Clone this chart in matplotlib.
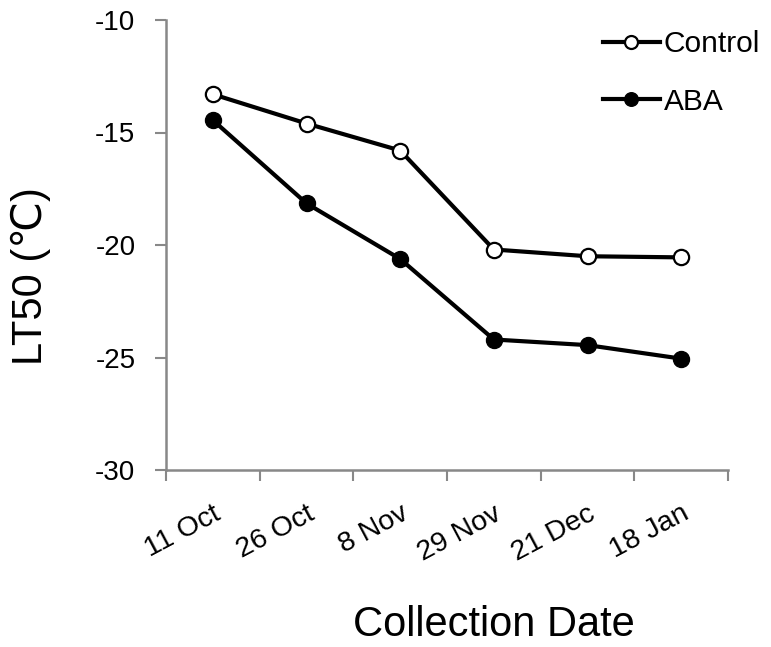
import matplotlib
matplotlib.use("Agg")
import matplotlib.pyplot as plt
import numpy as np

plt.rcParams['font.family'] = ['Liberation Sans', 'DejaVu Sans']

dates = ["11 Oct", "26 Oct", "8 Nov", "29 Nov", "21 Dec", "18 Jan"]
control = [-13.3, -14.6, -15.8, -20.2, -20.5, -20.55]
aba = [-14.45, -18.15, -20.62, -24.2, -24.45, -25.05]
yticks = [-30, -25, -20, -15, -10]

W, H = 771, 647
fig = plt.figure(figsize=(W / 100, H / 100), dpi=100)
ax = fig.add_axes([166 / W, 1 - 470 / H, (728 - 166) / W, (470 - 20) / H])

x = np.arange(len(dates))
ax.plot(x, control, color='black', lw=3.0, marker='o', markersize=11,
        markerfacecolor='white', markeredgecolor='black', markeredgewidth=1.6,
        label='Control', zorder=3)
ax.plot(x, aba, color='black', lw=3.0, marker='o', markersize=11.5,
        markerfacecolor='black', markeredgecolor='black',
        label='ABA', zorder=3)

ax.set_xlim(-0.5, len(dates) - 0.5)
ax.set_ylim(-30, -10)
ax.set_yticks(yticks)
ax.set_yticklabels([str(v) for v in yticks], fontsize=20)

ax.set_xticks(np.arange(len(dates) + 1) - 0.5)
ax.set_xticklabels([])
ax.set_xticks(x, minor=True)
ax.set_xticklabels(dates, minor=True, fontsize=20.5, rotation=28,
                   ha='right', rotation_mode='anchor')
ax.tick_params(axis='x', which='minor', length=0, pad=22)
ax.tick_params(axis='both', which='major', length=8, width=1.5, color='#888888')
ax.tick_params(axis='y', pad=14)

for s in ['top', 'right']:
    ax.spines[s].set_visible(False)
for s in ['left', 'bottom']:
    ax.spines[s].set_color('#888888')
    ax.spines[s].set_linewidth(1.8)

fig.text(31 / W, 1 - 276 / H, 'LT50 (℃)', fontsize=30, rotation=90,
         ha='center', va='center')
fig.text(494 / W, 1 - 636 / H, 'Collection Date', fontsize=30,
         ha='center', va='baseline')

leg = fig.legend(loc='upper left', bbox_to_anchor=(603 / W, 1 - 30 / H), frameon=False,
                 fontsize=21.5, handlelength=1.9, handletextpad=0.14,
                 labelspacing=1.0, borderaxespad=0, borderpad=0, markerscale=0.85)

fig.savefig('out.png', dpi=100)
